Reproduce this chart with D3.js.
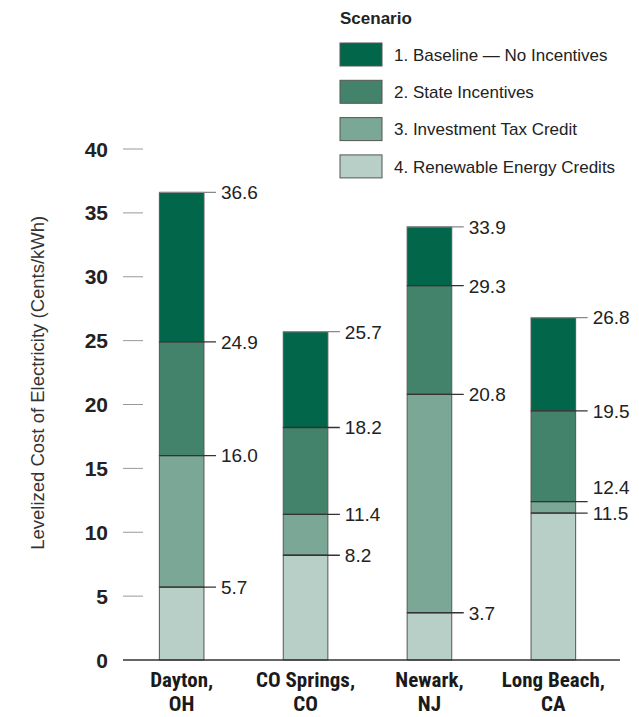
<!DOCTYPE html>
<html>
<head>
<meta charset="utf-8">
<script src="https://cdn.jsdelivr.net/npm/d3@7"></script>
<style>
  body { margin: 0; background: #fff; }
  svg text { font-family: "Liberation Sans", Arial, sans-serif; fill: #222; }
  svg text.cond { font-family: "Roboto Condensed", "Liberation Sans Narrow", sans-serif; }
</style>
</head>
<body>
<div class="js-chart"></div>
<script>
var cities = [['Dayton,', 'OH'], ['CO Springs,', 'CO'], ['Newark,', 'NJ'], ['Long Beach,', 'CA']];
var scenarios = ['1. Baseline \u2014 No Incentives', '2. State Incentives', '3. Investment Tax Credit', '4. Renewable Energy Credits'];
var colors = ['#02664b', '#44836b', '#7ba896', '#b7cfc6'];

// cost after each scenario, cents/kWh
var baseline = [36.6, 25.7, 33.9, 26.8];
var stateInc = [24.9, 18.2, 29.3, 19.5];
var taxCredit = [16.0, 11.4, 20.8, 12.4];
var recs = [5.7, 8.2, 3.7, 11.5];
var yTicks = [0, 5, 10, 15, 20, 25, 30, 35, 40];

var levels = [baseline, stateInc, taxCredit, recs];

var svg = d3.select('.js-chart').append('svg')
  .attr('width', 639)
  .attr('height', 717);

var y = d3.scaleLinear().domain([0, 40]).range([660, 149]);
var x = d3.scaleBand()
  .domain(d3.range(cities.length))
  .range([116, 619])
  .paddingInner(0.64)
  .paddingOuter(0.35);
var bw = x.bandwidth();

// y ticks
var ticks = svg.append('g');
ticks.selectAll('line').data(yTicks.slice(1)).enter().append('line')
  .attr('x1', 123).attr('x2', 143)
  .attr('y1', function(d) { return y(d); })
  .attr('y2', function(d) { return y(d); })
  .attr('stroke', '#999').attr('stroke-width', 1);
ticks.selectAll('text').data(yTicks).enter().append('text')
  .attr('x', 108)
  .attr('y', function(d) { return y(d); })
  .attr('dy', '0.36em')
  .attr('text-anchor', 'end')
  .style('font-size', '21px')
  .style('font-weight', 'bold')
  .text(function(d) { return d; });

svg.append('text')
  .attr('transform', 'translate(37,' + y(21.7) + ') rotate(-90)')
  .attr('text-anchor', 'middle')
  .attr('dy', '0.36em')
  .style('font-size', '18.5px')
  .style('fill', '#333')
  .text('Levelized Cost of Electricity (Cents/kWh)');

// segments
var segs = [];
cities.forEach(function(c, i) {
  levels.forEach(function(arr, s) {
    var lo = s < levels.length - 1 ? levels[s + 1][i] : 0;
    segs.push({ city: i, s: s, lo: lo, hi: arr[i] });
  });
});

svg.append('g').selectAll('rect').data(segs).enter().append('rect')
  .attr('x', function(d) { return x(d.city); })
  .attr('y', function(d) { return y(d.hi); })
  .attr('width', bw)
  .attr('height', function(d) { return y(d.lo) - y(d.hi); })
  .attr('fill', function(d) { return colors[d.s]; })
  .attr('stroke', '#555')
  .attr('stroke-width', 1);

// divider / leader lines
svg.append('g').selectAll('line').data(segs).enter().append('line')
  .attr('x1', function(d) { return x(d.city); })
  .attr('x2', function(d) { return x(d.city) + bw + 12; })
  .attr('y1', function(d) { return y(d.hi); })
  .attr('y2', function(d) { return y(d.hi); })
  .attr('stroke', function(d) { return d.s === 0 ? '#888' : '#333'; })
  .attr('stroke-width', 1.3);

svg.append('g').selectAll('text').data(segs).enter().append('text')
  .attr('x', function(d) { return x(d.city) + bw + 17; })
  .attr('y', function(d) {
    var close = d.s === 2 && Math.abs(d.hi - levels[3][d.city]) < 2;
    return y(d.hi) - (close ? 14 : 0);
  })
  .attr('dy', '0.36em')
  .style('font-size', '19px')
  .text(function(d) { return d.hi.toFixed(1); });

// baseline axis
svg.append('line')
  .attr('x1', 123).attr('x2', 620)
  .attr('y1', y(0)).attr('y2', y(0))
  .attr('stroke', '#333').attr('stroke-width', 1.5);

// city labels
var cl = svg.append('g').selectAll('text').data(cities).enter().append('text')
  .attr('class', 'cond')
  .attr('x', function(d, i) { return x(i) + bw / 2; })
  .attr('y', 687)
  .attr('text-anchor', 'middle')
  .style('font-size', '21px')
  .style('font-weight', 'bold')
  .style('fill', '#1a1a1a');
cl.append('tspan').text(function(d) { return d[0]; });
cl.append('tspan')
  .attr('x', function(d, i) { return x(i) + bw / 2; })
  .attr('dy', 24)
  .text(function(d) { return d[1]; });

// legend
var lg = svg.append('g').attr('transform', 'translate(340,0)');
lg.append('text').attr('x', 0).attr('y', 24)
  .style('font-size', '17px').style('font-weight', 'bold')
  .text('Scenario');
var items = lg.selectAll('g.item').data(scenarios).enter().append('g')
  .attr('transform', function(d, i) { return 'translate(0,' + (43 + i * 37.3) + ')'; });
items.append('rect')
  .attr('width', 42).attr('height', 23)
  .attr('fill', function(d, i) { return colors[i]; })
  .attr('stroke', '#555');
items.append('text')
  .attr('x', 54).attr('y', 11.5)
  .attr('dy', '0.36em')
  .style('font-size', '17px')
  .text(function(d) { return d; });
</script>
</body>
</html>
